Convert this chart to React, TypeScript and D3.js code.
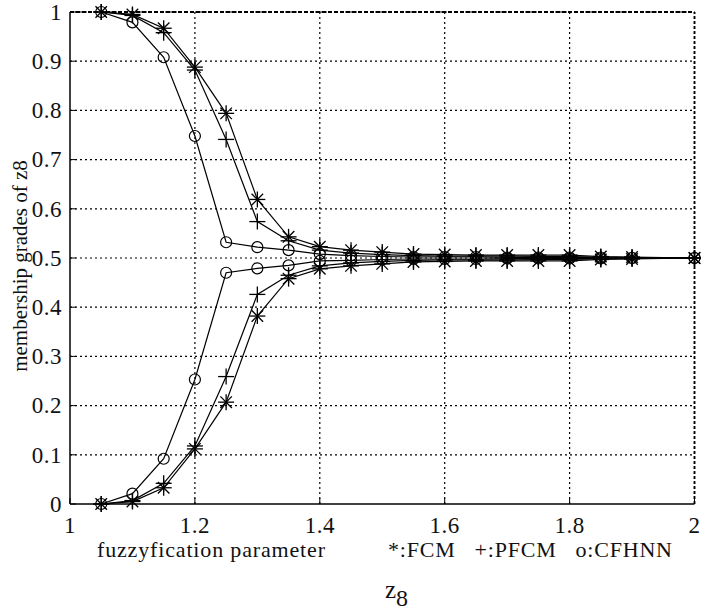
import React from 'react'
import * as d3 from 'd3'

const width = 701
const height = 612
const margin = { left: 70, top: 12, right: 6, bottom: 108 }

const xValues = [1.05, 1.1, 1.15, 1.2, 1.25, 1.3, 1.35, 1.4, 1.45, 1.5, 1.55, 1.6, 1.65, 1.7, 1.75, 1.8, 1.85, 1.9, 2.0]

const fcmUpper = [1.0, 0.995, 0.967, 0.888, 0.794, 0.619, 0.543, 0.523, 0.516, 0.512, 0.508, 0.507, 0.506, 0.506, 0.506, 0.506, 0.503, 0.502, 0.5]
const fcmLower = [0, 0.005, 0.033, 0.112, 0.207, 0.382, 0.458, 0.478, 0.484, 0.488, 0.492, 0.493, 0.494, 0.494, 0.494, 0.494, 0.497, 0.498, 0.5]
const pfcmUpper = [1.0, 0.993, 0.958, 0.882, 0.741, 0.574, 0.535, 0.516, 0.51, 0.507, 0.505, 0.504, 0.504, 0.504, 0.503, 0.503, 0.502, 0.501, 0.5]
const pfcmLower = [0, 0.007, 0.042, 0.118, 0.259, 0.426, 0.465, 0.484, 0.49, 0.493, 0.495, 0.496, 0.496, 0.496, 0.497, 0.497, 0.498, 0.499, 0.5]
const cfhnnUpper = [1.0, 0.979, 0.908, 0.748, 0.532, 0.522, 0.516, 0.508, 0.505, 0.503, 0.502, 0.502, 0.502, 0.501, 0.501, 0.501, 0.501, 0.5, 0.5]
const cfhnnLower = [0, 0.021, 0.092, 0.253, 0.47, 0.479, 0.485, 0.494, 0.495, 0.497, 0.498, 0.498, 0.498, 0.499, 0.499, 0.499, 0.499, 0.5, 0.5]

const xTicks = [1, 1.2, 1.4, 1.6, 1.8, 2]
const yTicks = [0, 0.1, 0.2, 0.3, 0.4, 0.5, 0.6, 0.7, 0.8, 0.9, 1]

const series = [
  { name: 'FCM', marker: 'star', values: fcmUpper },
  { name: 'FCM', marker: 'star', values: fcmLower },
  { name: 'PFCM', marker: 'plus', values: pfcmUpper },
  { name: 'PFCM', marker: 'plus', values: pfcmLower },
  { name: 'CFHNN', marker: 'circle', values: cfhnnUpper },
  { name: 'CFHNN', marker: 'circle', values: cfhnnLower },
]

const font = '"Liberation Serif", "Times New Roman", serif'

function Marker({ type, x, y }: { type: string; x: number; y: number }) {
  const s = 8
  if (type === 'circle') {
    return <circle cx={x} cy={y} r={5.5} fill="none" stroke="black" strokeWidth={1.2} />
  }
  const d = s * 0.72
  return (
    <g stroke="black" strokeWidth={1.3}>
      <line x1={x - s} x2={x + s} y1={y} y2={y} />
      <line x1={x} x2={x} y1={y - s} y2={y + s} />
      {type === 'star' && (
        <>
          <line x1={x - d} x2={x + d} y1={y - d} y2={y + d} />
          <line x1={x - d} x2={x + d} y1={y + d} y2={y - d} />
        </>
      )}
    </g>
  )
}

export default function App() {
  const x = d3.scaleLinear().domain([1, 2]).range([margin.left, width - margin.right - 0.5])
  const y = d3.scaleLinear().domain([0, 1]).range([height - margin.bottom, margin.top])

  const line = d3
    .line<number>()
    .x((d, i) => x(xValues[i]))
    .y((d) => y(d))

  const x0 = x(1)
  const x1 = x(2)
  const y0 = y(0)
  const y1 = y(1)

  return (
    <svg width={width} height={height} style={{ position: 'absolute', left: 0, top: 0, background: 'white' }}>
      {/* grid */}
      <g stroke="black" strokeWidth={1.2} strokeDasharray="2,3">
        {xTicks.slice(1).map((t) => (
          <line key={'gx' + t} x1={x(t)} x2={x(t)} y1={y0} y2={y1} />
        ))}
        {yTicks.slice(1).map((t) => (
          <line key={'gy' + t} x1={x0} x2={x1} y1={y(t)} y2={y(t)} />
        ))}
      </g>
      <line x1={x0} x2={x1} y1={y1} y2={y1} stroke="black" strokeWidth={2} strokeDasharray="4,2" />
      <line x1={x1} x2={x1} y1={y0} y2={y1} stroke="black" strokeWidth={1.8} strokeDasharray="3,2" />
      {/* axes */}
      <line x1={x0} x2={x0} y1={y0} y2={y1} stroke="black" strokeWidth={1.5} />
      <line x1={x0} x2={x1} y1={y0} y2={y0} stroke="black" strokeWidth={1.5} />
      <g stroke="black" strokeWidth={1}>
        {yTicks.map((t) => (
          <line key={'ty' + t} x1={x0} x2={x0 + 6} y1={y(t)} y2={y(t)} />
        ))}
        {xTicks.map((t) => (
          <line key={'tx' + t} x1={x(t)} x2={x(t)} y1={y0} y2={y0 - 6} />
        ))}
      </g>

      {/* series */}
      {series.map((s, si) => (
        <g key={si}>
          <path d={line(s.values) || ''} fill="none" stroke="black" strokeWidth={1.2} />
          {s.values.map((v, i) => (
            <Marker key={i} type={s.marker} x={x(xValues[i])} y={y(v)} />
          ))}
        </g>
      ))}

      {/* tick labels */}
      <g fontFamily={font} fontSize={23} fill="#111">
        {yTicks.map((t) => (
          <text key={'ly' + t} x={x0 - 8} y={y(t)} dy="0.34em" textAnchor="end" letterSpacing={0.5}>
            {d3.format('~g')(t)}
          </text>
        ))}
        {xTicks.map((t) => (
          <text key={'lx' + t} x={x(t)} y={y0 + 29} textAnchor="middle" letterSpacing={0.5}>
            {d3.format('~g')(t)}
          </text>
        ))}
      </g>

      <text x={97} y={557} fontFamily={font} fontSize={22} fill="#111" textLength={228} lengthAdjust="spacing">
        fuzzyfication parameter
      </text>
      <text x={388} y={557} fontFamily={font} fontSize={22} fill="#111" xmlSpace="preserve" textLength={284} lengthAdjust="spacing">
        {'*:FCM   +:PFCM   o:CFHNN'}
      </text>
      <text
        transform={`translate(27,${(y0 + y1) / 2 + 8}) rotate(-90)`}
        textAnchor="middle"
        fontFamily={font}
        fontSize={21}
        fill="#111"
      >
        membership grades of z8
      </text>
      <text x={385} y={598} fontFamily={font} fontSize={25} fill="#111">
        z<tspan dy={8} fontSize={24}>8</tspan>
      </text>
    </svg>
  )
}
